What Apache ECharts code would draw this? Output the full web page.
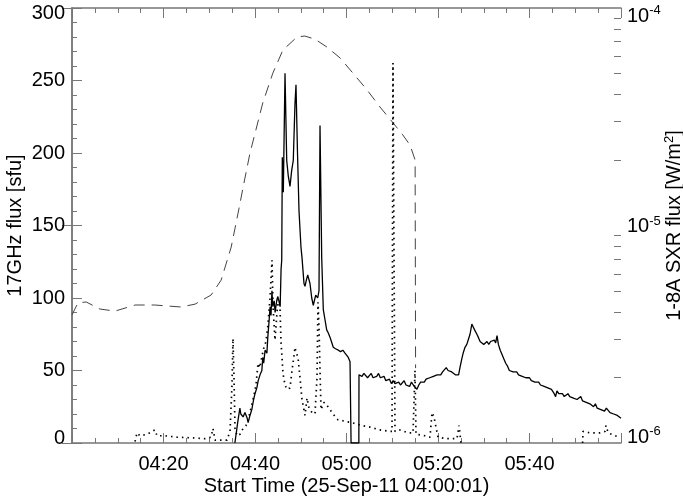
<!DOCTYPE html>
<html>
<head>
<meta charset="utf-8">
<script src="https://cdn.jsdelivr.net/npm/echarts@6/dist/echarts.min.js"></script>
<style>
  html, body { margin: 0; padding: 0; background: #fff; }
  #chart { width: 683px; height: 497px; }
</style>
</head>
<body>
<div id="chart"></div>
<script>
// time axis in minutes after 04:00:01
const xTickLabels = ['04:00', '04:20', '04:40', '05:00', '05:20', '05:40', '06:00']

// 17 GHz flux (solid), sfu
const radioTime = [
  35.6, 36.3, 36.7, 36.9, 37.4, 37.8, 38.3, 38.5, 38.9, 39.3, 39.7, 40.0, 40.4, 40.7, 41.1, 41.5, 41.7, 41.9,
  42.2, 42.6, 42.8, 43.1, 43.3, 43.5, 43.7, 43.9, 44.2, 44.4, 44.6, 44.8, 45.0, 45.3, 45.5, 45.7, 45.84, 45.97,
  46.19, 46.56, 46.93, 47.28, 47.65, 48.02, 48.37, 48.74, 48.96, 49.29, 49.62, 50.05, 50.27, 50.71, 50.93, 51.2,
  51.52, 52.02, 52.4, 52.74, 53.27, 53.7, 53.99, 54.21, 54.58, 54.93, 55.3, 55.67, 56.0, 56.39, 56.7, 57.11,
  57.6, 58.21, 58.7, 59.2, 59.67, 60.0, 60.39, 60.77, 60.98, 61.0, 62.7, 62.73, 63.0, 63.4, 63.8, 64.2, 64.6,
  65.0, 65.4, 65.8, 66.2, 66.6, 67.0, 67.4, 67.8, 68.2, 68.6, 69.0, 69.4, 69.8, 70.2, 70.6, 71.0, 71.4, 71.8,
  72.2, 72.6, 73.0, 73.4, 73.8, 74.2, 74.6, 75.0, 75.4, 75.8, 76.2, 76.6, 77.0, 77.4, 77.8, 78.2, 78.6, 79.0,
  79.4, 79.8, 80.2, 80.6, 81.0, 81.4, 81.8, 82.2, 82.6, 83.0, 83.4, 83.8, 84.2, 84.5, 84.8, 85.2, 85.5, 85.9,
  86.3, 86.6, 87.0, 87.4, 87.7, 88.0, 88.5, 88.8, 89.2, 89.6, 90.0, 90.4, 90.7, 91.1, 91.5, 91.9, 92.3, 92.6,
  92.9, 93.2, 93.6, 94.0, 94.4, 94.8, 95.2, 95.6, 96.0, 96.4, 96.8, 97.2, 97.6, 98.0, 98.4, 98.8, 99.2, 99.6,
  100.0, 100.4, 100.8, 101.2, 101.6, 102.0, 102.4, 102.8, 103.2, 103.6, 104.0, 104.4, 104.8, 105.1, 105.4,
  105.7, 106.0, 106.4, 106.8, 107.2, 107.6, 108.0, 108.4, 108.8, 109.2, 109.6, 110.0, 110.4, 110.8, 111.2,
  111.6, 112.0, 112.4, 112.8, 113.2, 113.6, 114.0, 114.4, 114.8, 115.2, 115.6, 116.0, 116.4, 116.8, 117.2,
  117.6, 118.0, 118.4, 118.8, 119.2, 119.6, 120.0
]
const radioFlux = [
  0, 16, 24, 20, 18, 21, 17, 14, 19, 23, 30, 34, 38, 43, 47, 50, 59, 55,
  64, 62, 73, 85, 94, 88, 105, 94, 98, 90, 95, 99, 101, 97, 94, 120, 126, 197,
  173, 255, 195, 184, 177, 188, 195, 234, 247, 200, 160, 135, 128, 110, 108, 112,
  116, 110, 100, 95, 102, 100, 105, 219, 128, 92, 85, 78, 76, 73, 70, 66,
  65, 64, 63, 64, 62, 61, 59, 56, 55, 0, 0, 47, 48, 46, 48, 47, 45,
  46, 48, 45, 44, 46, 48, 45, 44, 46, 43, 42, 44, 41, 43, 41, 40, 42, 40,
  41, 43, 40, 41, 39, 42, 40, 41, 37, 40, 42, 43, 42, 44, 43, 45, 44, 46,
  45, 47, 48, 47, 49, 50, 52, 50, 51, 49, 48, 47, 46, 47, 52, 58, 62, 66,
  68, 71, 75, 82, 80, 78, 75, 73, 70, 71, 68, 69, 70, 68, 70, 69, 71, 69,
  74, 68, 64, 61, 58, 55, 53, 50, 51, 49, 48, 49, 47, 48, 46, 47, 45, 44,
  45, 43, 44, 42, 41, 42, 40, 41, 39, 40, 38, 39, 37, 38, 34,
  32, 36, 34, 33, 34, 32, 33, 34, 32, 33, 31, 32, 30, 31, 32,
  29, 30, 28, 29, 27, 26, 25, 27, 24, 25, 23, 24, 22, 24, 23,
  21, 22, 20, 21, 19, 20, 17
]

// second radio channel (dotted), sfu
const dotTime = [
  13.77, 14.21, 14.86, 16.39, 18.14, 18.58, 20.33, 22.95, 26.45, 29.07, 30.38, 30.82, 31.26, 32.79, 33.88,
  34.54, 34.97, 35.19, 35.41, 35.63, 36.07, 36.72, 37.38, 38.03, 38.47, 39.13, 39.78, 40.22, 40.66, 41.09,
  41.53, 41.97, 42.4, 42.84, 43.28, 43.72, 43.93, 44.37, 44.81, 45.03, 45.46, 45.68, 46.12, 46.56, 47.0,
  47.65, 48.09, 48.52, 48.74, 48.96, 49.4, 49.84, 50.27, 50.93, 51.37, 51.8, 52.46, 53.11, 53.55, 53.77,
  53.99, 54.21, 54.43, 55.08, 55.96, 57.05, 58.14, 59.67, 61.2, 63.39, 65.14, 67.32, 69.51, 69.95, 70.16,
  70.49, 70.6, 71.69, 73.44, 74.54, 74.8, 74.97, 75.19, 75.41, 77.16, 78.25, 78.69, 79.13, 79.56, 80.0,
  81.97, 84.15, 84.59, 85.03, 98.0, 111.6, 111.7, 113.2, 115.4, 116.5, 116.7, 117.2, 118.7, 119.8
]
const dotFlux = [
  1, 7, 5, 6, 9, 5, 5, 4, 3.5, 3, 4, 10, 2, 2, 2,
  8, 40, 72, 45, 10, 5, 6, 10, 12, 16, 24, 33, 40, 55, 52,
  60, 66, 70, 82, 100, 126, 95, 71, 90, 99, 94, 70, 48, 40, 37,
  38, 50, 60, 66, 63, 59, 45, 30, 19, 31, 24, 21, 20, 45, 97,
  80, 50, 23, 28, 25, 20, 16, 15, 14, 12, 11, 9, 8, 8, 262,
  262, 8, 9, 7, 7, 7, 50, 6, 5, 5, 4, 21, 18, 11, 4,
  3, 3, 12, 0, null, 0, 8, 7, 7, 8, 12, 7, 5, 4
]

// GOES 1-8 A soft X-ray flux (dashed), W/m^2
const sxrTime = [
  0, 1.3, 3.1, 6.1, 9.4, 13.8, 18.1, 23.8, 26.9, 30.4, 32.6, 34.8, 36.3, 37.4, 38.9, 41.7, 43.9, 46.1,
  49.2, 50.9, 53.1, 55.7, 58.6, 61.4, 64.5, 67.3, 70.2, 72.3, 73.9, 75.0, 75.1
]
const sxrFlux = [
  3.88e-6, 4.41e-6, 4.45e-6, 4.13e-6, 4.04e-6, 4.31e-6, 4.31e-6, 4.22e-6, 4.35e-6, 4.79e-6, 5.61e-6,
  7.96e-6, 1.14e-5, 1.50e-5, 2.15e-5, 3.66e-5, 5.02e-5, 6.41e-5, 7.36e-5, 7.43e-5, 7.19e-5, 6.62e-5,
  5.89e-5, 5.02e-5, 4.20e-5, 3.51e-5, 2.96e-5, 2.61e-5, 2.34e-5, 2.00e-5, 2.21e-6
]

// minor ticks of the log axis (2..9 in each decade)
const logMinor = []
for (let e = -6; e < -4; e++) {
  for (let k = 2; k <= 9; k++) logMinor.push(e + Math.log10(k))
}

const pairs = (ts, vs) => ts.map((t, i) => [t, vs[i]])

const font = 'Liberation Sans'
const axisColor = '#777'

// end labels sit a little inside the frame, like the original
const leftLabel = v => v === 300 ? '{t|300}' : v === 0 ? '{u|0}' : String(v)
const rightLabel = v => {
  const e = Math.round(Math.log10(v))
  if (e === -4) return '{bt|10}{s|' + e + '}'
  if (e === -6) return '{bu|10}{su|' + e + '}'
  return '{b|10}{s|' + e + '}'
}

const chart = echarts.init(document.getElementById('chart'))

const option = {
  animation: false,
  backgroundColor: '#fff',
  textStyle: { fontFamily: font },
  grid: { left: 72, right: 62, top: 8, bottom: 54, containLabel: false, outerBoundsMode: 'none' },
  xAxis: [
    {
      type: 'value',
      min: 0,
      max: 120,
      interval: 20,
      position: 'bottom',
      name: 'Start Time (25-Sep-11 04:00:01)',
      nameLocation: 'middle',
      nameGap: 33,
      nameMoveOverlap: false,
      nameTextStyle: { fontSize: 20, color: '#000', fontFamily: font },
      axisLine: { lineStyle: { color: axisColor, width: 1.5 } },
      axisTick: { inside: true, length: 10, lineStyle: { color: axisColor } },
      minorTick: { show: true, splitNumber: 4, length: 5, lineStyle: { color: axisColor } },
      splitLine: { show: false },
      axisLabel: {
        fontSize: 20,
        color: '#000',
        margin: 11,
        showMinLabel: false,
        showMaxLabel: false,
        formatter: v => xTickLabels[Math.round(v / 20)]
      }
    },
    {
      type: 'value',
      min: 0,
      max: 120,
      interval: 20,
      position: 'top',
      axisLine: { lineStyle: { color: axisColor, width: 1.5 } },
      axisTick: { inside: true, length: 10, lineStyle: { color: axisColor } },
      minorTick: { show: true, splitNumber: 4, length: 5, lineStyle: { color: axisColor } },
      splitLine: { show: false },
      axisLabel: { show: false }
    }
  ],
  yAxis: [
    {
      type: 'value',
      min: 0,
      max: 300,
      interval: 50,
      position: 'left',
      name: '17GHz flux [sfu]',
      nameLocation: 'middle',
      nameGap: 47,
      nameMoveOverlap: false,
      nameTextStyle: { fontSize: 20, color: '#000', fontFamily: font },
      axisLine: { show: true, lineStyle: { color: axisColor, width: 1.5 } },
      axisTick: { show: true, inside: true, length: 10, lineStyle: { color: axisColor } },
      minorTick: { show: true, splitNumber: 5, length: 5, lineStyle: { color: axisColor } },
      splitLine: { show: false },
      axisLabel: {
        fontSize: 20,
        color: '#000',
        margin: 7,
        formatter: leftLabel,
        rich: {
          t: { fontSize: 20, fontFamily: font, color: '#000', padding: [10, 0, 0, 0] },
          u: { fontSize: 20, fontFamily: font, color: '#000', padding: [0, 0, 10, 0] }
        }
      }
    },
    {
      type: 'log',
      logBase: 10,
      min: 1e-6,
      max: 1e-4,
      position: 'right',
      offset: 0,
      name: '1-8A SXR flux [W/m{s|2}]',
      nameLocation: 'middle',
      nameGap: 42,
      nameRotate: 90,
      nameMoveOverlap: false,
      nameTextStyle: {
        fontSize: 20,
        color: '#000',
        fontFamily: font,
        rich: { s: { fontSize: 13, fontFamily: font, padding: [0, 0, 9, 0] } }
      },
      axisLine: { show: true, lineStyle: { color: axisColor, width: 1.5 } },
      axisTick: { show: true, inside: true, length: 10, lineStyle: { color: axisColor } },
      splitLine: { show: false },
      axisLabel: {
        color: '#000',
        margin: 6,
        formatter: rightLabel,
        rich: {
          b: { fontSize: 20, fontFamily: font, color: '#000', verticalAlign: 'bottom' },
          s: { fontSize: 13, fontFamily: font, color: '#000', verticalAlign: 'bottom', padding: [0, 0, 9, 0] },
          bt: { fontSize: 20, fontFamily: font, color: '#000', verticalAlign: 'bottom', padding: [16, 0, 0, 0] },
          bu: { fontSize: 20, fontFamily: font, color: '#000', verticalAlign: 'bottom', padding: [0, 0, 14, 0] },
          su: { fontSize: 13, fontFamily: font, color: '#000', verticalAlign: 'bottom', padding: [0, 0, 23, 0] }
        }
      }
    },
    {
      type: 'value',
      min: -6,
      max: -4,
      position: 'right',
      offset: 0,
      axisLine: { show: false },
      axisTick: {
        show: true,
        inside: true,
        length: 7,
        customValues: logMinor,
        lineStyle: { color: axisColor }
      },
      axisLabel: { show: false },
      splitLine: { show: false }
    }
  ],
  series: [
    {
      name: 'SXR',
      type: 'line',
      xAxisIndex: 0,
      yAxisIndex: 1,
      data: pairs(sxrTime, sxrFlux),
      showSymbol: false,
      clip: true,
      lineStyle: { color: '#444', width: 1, type: [11, 7] }
    },
    {
      name: 'dotted',
      type: 'line',
      xAxisIndex: 0,
      yAxisIndex: 0,
      data: pairs(dotTime, dotFlux),
      showSymbol: false,
      connectNulls: false,
      lineStyle: { color: '#000', width: 1.7, type: [1.5, 4] }
    },
    {
      name: '17GHz',
      type: 'line',
      xAxisIndex: 0,
      yAxisIndex: 0,
      data: pairs(radioTime, radioFlux),
      showSymbol: false,
      lineStyle: { color: '#000', width: 1.3 }
    }
  ]
}

chart.setOption(option)
</script>
</body>
</html>
